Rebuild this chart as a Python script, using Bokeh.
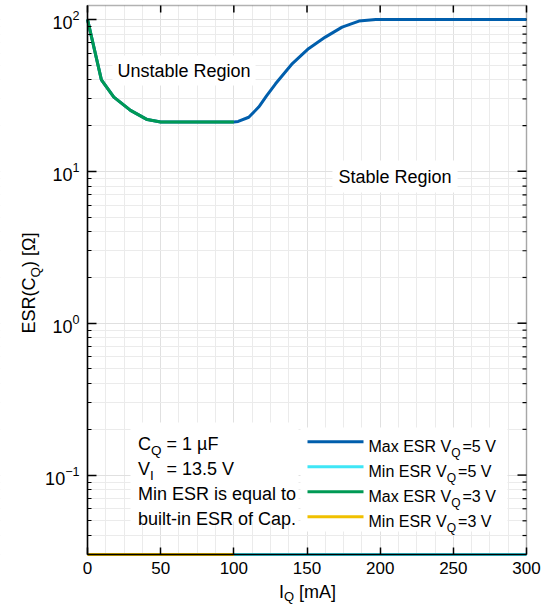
import numpy as np
from bokeh.plotting import figure
from bokeh.models import Label, BoxAnnotation, FixedTicker, Range1d
from bokeh.embed import file_html
from bokeh.resources import INLINE

# ---------------- data ----------------
iq_max5 = [0, 9.5, 18, 29.4, 40.8, 50, 100, 103, 110.2, 117, 122.6, 128.5, 140, 151, 162.5, 174, 185.5, 197, 300]
esr_max5 = [100, 40, 30.8, 25.2, 21.9, 21.1, 21.1, 21.3, 22.7, 26.5, 31.6, 37.7, 51.2, 64.2, 76.5, 89, 97.5, 100, 100]
iq_min5 = [100, 300]
esr_min5 = [0.03, 0.03]
iq_max3 = [0, 9.5, 18, 29.4, 40.8, 50, 100]
esr_max3 = [100, 40, 30.8, 25.2, 21.9, 21.1, 21.1]
iq_min3 = [0, 100]
esr_min3 = [0.03, 0.03]

x_ticks = [0, 50, 100, 150, 200, 250, 300]
y_ticks = [0.1, 1, 10, 100]

legend_main = ["Max ESR V", "Min ESR V", "Max ESR V", "Min ESR V"]
legend_sub = ["Q", "Q", "Q", "Q"]
legend_tail = ["=5 V", "=5 V", "=3 V", "=3 V"]
colors = ["#005eac", "#3fe6f6", "#009a55", "#f0c000"]

FONT = "Liberation Sans"
X0, X1 = 0, 300          # axis limits
Y0, Y1 = 0.03, 123.5

# Arial / Liberation Sans advance widths (1/1000 em)
W = {' ': 278, '(': 333, ')': 333, '[': 278, ']': 278, '=': 584, '.': 278, '-': 333,
     'A': 667, 'B': 667, 'C': 722, 'D': 722, 'E': 667, 'F': 611, 'G': 778, 'H': 722, 'I': 278,
     'J': 500, 'K': 667, 'L': 556, 'M': 833, 'N': 722, 'O': 778, 'P': 667, 'Q': 778, 'R': 722,
     'S': 667, 'T': 611, 'U': 722, 'V': 667, 'W': 944, 'X': 667, 'Y': 667, 'Z': 611,
     'a': 556, 'b': 556, 'c': 500, 'd': 556, 'e': 556, 'f': 278, 'g': 556, 'h': 556, 'i': 222,
     'j': 222, 'k': 500, 'l': 222, 'm': 833, 'n': 556, 'o': 556, 'p': 556, 'q': 556, 'r': 333,
     's': 500, 't': 278, 'u': 556, 'v': 500, 'w': 722, 'x': 500, 'y': 500, 'z': 500,
     'µ': 577, 'Ω': 768}


def text_w(s, size):
    return sum(W.get(c, 556) for c in s) * size / 1000.0


# ---------------- layout: the frame fills the canvas, the axes box sits inside ----------------
PW, PH = 545, 607
BL, BR, BT, BB = 87, 526, 5, 554        # page position of the axes box edges
kx = (X1 - X0) / (BR - BL)
xs, xe = X0 - BL * kx, X1 + (PW - BR) * kx
ky = (np.log10(Y1) - np.log10(Y0)) / (BB - BT)
ys, ye = 10 ** (np.log10(Y0) - (PH - BB) * ky), 10 ** (np.log10(Y1) + BT * ky)

p = figure(width=PW, height=PH, x_range=Range1d(xs, xe), y_range=Range1d(ys, ye),
           y_axis_type="log", output_backend="svg", toolbar_location=None,
           min_border=0)
p.background_fill_color = "white"
p.border_fill_color = "white"
p.outline_line_color = None

minor_x = [v for v in np.arange(0, 300.01, 12.5) if v not in x_ticks]
minor_y = [m * 10.0 ** k for k in range(-2, 3) for m in range(2, 10)]
minor_y = [v for v in minor_y if Y0 <= v <= Y1]
xt = FixedTicker(ticks=x_ticks, minor_ticks=minor_x)
yt = FixedTicker(ticks=y_ticks, minor_ticks=minor_y)

xa = p.xaxis[0]
ya = p.yaxis[0]
xa.ticker = xt
ya.ticker = yt
xa.fixed_location = Y0
ya.fixed_location = X0
xa.bounds = (X0, X1)
ya.bounds = (Y0, Y1)
for ax in (xa, ya):
    ax.axis_line_width = 1.5
    ax.major_tick_line_width = 1.5
    ax.minor_tick_line_width = 1.2
    ax.major_tick_out = 0
    ax.minor_tick_out = 0
    ax.major_label_text_font = FONT
    ax.major_label_text_color = "black"
    ax.major_label_standoff = 8
xa.major_label_text_font_size = "17px"
ya.major_label_text_font_size = "18px"
xa.major_label_standoff = 7
xa.major_tick_in = 7
xa.minor_tick_in = 0
ya.major_tick_in = 9
ya.minor_tick_in = 4

for g in (p.xgrid[0], p.ygrid[0]):
    g.grid_line_color = "#e0e0e0"
    g.grid_line_width = 1
    g.minor_grid_line_color = "#ebebeb"
    g.minor_grid_line_width = 1

# white masks so that the grid stays inside the axes box
for kw in (dict(right=X0), dict(left=X1), dict(top=Y0), dict(bottom=Y1)):
    p.add_layout(BoxAnnotation(fill_color="white", fill_alpha=1.0, line_color=None,
                               level="underlay", **kw))

# box outline
p.add_layout(BoxAnnotation(left=X0, right=X1, bottom=Y0, top=Y1, fill_alpha=0,
                           line_color="black", line_width=1.5, level="guide"))

# mirrored ticks on the top and right edges (box-style axes)
p.ray(x=x_ticks, y=[Y1] * len(x_ticks), length=7, length_units="screen",
      angle=-np.pi / 2, line_color="black", line_width=1.5)
p.ray(x=[X1] * len(y_ticks), y=y_ticks, length=9, length_units="screen",
      angle=np.pi, line_color="black", line_width=1.5)
p.ray(x=[X1] * len(minor_y), y=minor_y, length=4, length_units="screen",
      angle=np.pi, line_color="black", line_width=1.2)

# ---------------- data lines ----------------
p.line(iq_max5, esr_max5, line_color=colors[0], line_width=3)
p.line(iq_min5, esr_min5, line_color=colors[1], line_width=3)
p.line(iq_max3, esr_max3, line_color=colors[2], line_width=3)
p.line(iq_min3, esr_min3, line_color=colors[3], line_width=3)

# ---------------- annotations (page coordinates -> screen units) ----------------

def box(l, r, t, b, color="white"):
    p.add_layout(BoxAnnotation(left=l, right=r, top=PH - t, bottom=PH - b,
                               left_units="screen", right_units="screen",
                               top_units="screen", bottom_units="screen",
                               fill_color=color, fill_alpha=1.0, line_color=None))


def lab(text, px, py, size, angle=0.0, **kw):
    p.add_layout(Label(x=px, y=PH - py, x_units="screen", y_units="screen",
                       text=text, text_font=FONT, text_font_size=f"{size}px",
                       text_color="black", text_baseline="alphabetic",
                       text_align=kw.pop("text_align", "left"), angle=angle, **kw))


def rich(pieces, px, py, size, vertical=False, sub_scale=0.75, sub_drop=0.38):
    pos = px if not vertical else py
    starts = []
    for pc in pieces:
        if isinstance(pc, (int, float)):
            pos += pc if not vertical else -pc
            continue
        t, sub = pc
        s = size * sub_scale if sub else size
        d = size * sub_drop if sub else 0.0
        starts.append(pos)
        if vertical:
            lab(t, px + d, pos, round(s, 2), angle=np.pi / 2)
            pos -= text_w(t, s)
        else:
            lab(t, pos, py + d, round(s, 2))
            pos += text_w(t, s)
    return starts

# white boxes behind text blocks
box(130, 298, 422, 521)
box(300, 507, 427, 531)

# annotation text block
s1 = rich([("C", False), ("Q", True), text_w(" ", 18), ("= 1 µF", False)], 137.5, 443, 18)
s2 = rich([("V", False), ("I", True)], 137.5, 468, 18)
lab("= 13.5 V", s1[2], 468, 18)
lab("Min ESR is equal to", 137.5, 493, 18)
lab("built-in ESR of Cap.", 137.5, 518, 18)

# legend
for k in range(4):
    base = 446.3 + 25 * k
    box(307, 363, base - 6.5, base - 3.5, color=colors[k])
    rich([(legend_main[k], False), (legend_sub[k], True), 2.0, (legend_tail[k], False)],
         368, base, 16)

# region labels
lab("Unstable Region", 183.5, 70, 18, text_align="center",
    background_fill_color="white", padding=5)
lab("Stable Region", 394.5, 176, 18, text_align="center",
    background_fill_color="white", padding=6)

# axis labels
rich([("I", False), ("Q", True), text_w(" ", 18), ("[mA]", False)], 278.5, 591, 18,
     sub_scale=0.72, sub_drop=0.3)
rich([("ESR(C", False), ("Q", True), (") [Ω]", False)], 28.5, 333, 18, vertical=True)

open("out.html", "w").write(file_html(p, INLINE))
